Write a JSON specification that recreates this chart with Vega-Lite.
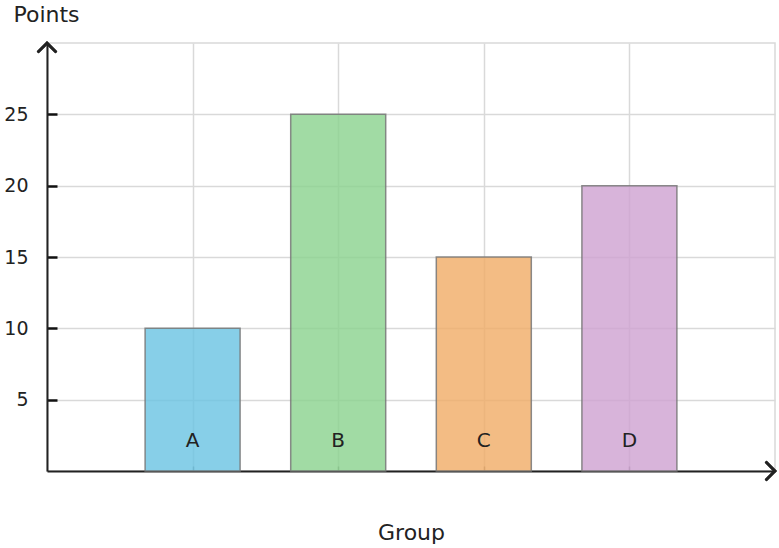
{
  "$schema": "https://vega.github.io/schema/vega-lite/v6.json",
  "width": 728,
  "height": 428,
  "autosize": {"type": "none"},
  "padding": {"left": 47, "top": 43, "right": 4, "bottom": 77},
  "background": "white",
  "config": {
    "font": "DejaVu Sans",
    "view": {"stroke": "#d9d9d9", "strokeWidth": 1.5},
    "axis": {"gridColor": "#d9d9d9", "gridWidth": 1.5, "labelFont": "DejaVu Sans", "titleFont": "DejaVu Sans", "labelColor": "#222", "titleColor": "#222", "titleFontWeight": "normal"}
  },
  "data": {
    "values": [
      {"group": "A", "pos": 1, "points": 10, "color": "A"},
      {"group": "B", "pos": 2, "points": 25, "color": "B"},
      {"group": "C", "pos": 3, "points": 15, "color": "C"},
      {"group": "D", "pos": 4, "points": 20, "color": "D"}
    ]
  },
  "layer": [
    {
      "mark": {"type": "bar", "width": 95, "fillOpacity": 0.8, "stroke": "#777", "strokeWidth": 1.5, "strokeOpacity": 0.85},
      "encoding": {
        "x": {
          "field": "pos", "type": "quantitative",
          "scale": {"domain": [0, 5], "nice": false, "zero": true, "padding": 0},
          "axis": {
            "values": [1, 2, 3, 4], "grid": true, "labels": false,
            "tickSize": -5, "tickColor": "#888", "tickWidth": 1.5,
            "domainColor": "#222", "domainWidth": 2,
            "title": "Group", "titleFontSize": 22, "titleX": 364, "titleY": 68, "titleBaseline": "alphabetic", "titleAnchor": "middle", "titleAlign": "center"
          }
        },
        "y": {
          "field": "points", "type": "quantitative",
          "scale": {"domain": [0, 30], "nice": false, "padding": 0},
          "axis": {
            "values": [5, 10, 15, 20, 25], "grid": true,
            "tickSize": -10, "tickColor": "#111", "tickWidth": 2.5, "ticks": true,
            "domainColor": "#222", "domainWidth": 2,
            "labelFontSize": 19, "labelPadding": 29,
            "title": "Points", "titleFontSize": 22, "titleAngle": 0, "titleX": -34, "titleY": -22,
            "titleAlign": "left", "titleBaseline": "alphabetic"
          }
        },
        "fill": {
          "field": "color", "type": "nominal",
          "scale": {"domain": ["A", "B", "C", "D"], "range": ["#69C3E2", "#8AD28D", "#F0AB65", "#CEA1D1"]},
          "legend": null
        }
      }
    },
    {
      "mark": {"type": "text", "dy": -30, "fontSize": 20, "color": "#222", "baseline": "middle", "align": "center"},
      "encoding": {
        "x": {"field": "pos", "type": "quantitative"},
        "y": {"datum": 0, "type": "quantitative"},
        "text": {"field": "group"}
      }
    },
    {
      "mark": {"type": "point", "shape": "M-1,-1L0,0L-1,1", "filled": false, "stroke": "#222", "strokeWidth": 2.5, "size": 350, "opacity": 1},
      "encoding": {
        "x": {"datum": 5, "type": "quantitative"},
        "y": {"datum": 0, "type": "quantitative"}
      }
    },
    {
      "mark": {"type": "point", "shape": "M-1,1L0,0L1,1", "filled": false, "stroke": "#222", "strokeWidth": 2.5, "size": 350, "opacity": 1},
      "encoding": {
        "x": {"datum": 0, "type": "quantitative"},
        "y": {"datum": 30, "type": "quantitative"}
      }
    }
  ]
}
